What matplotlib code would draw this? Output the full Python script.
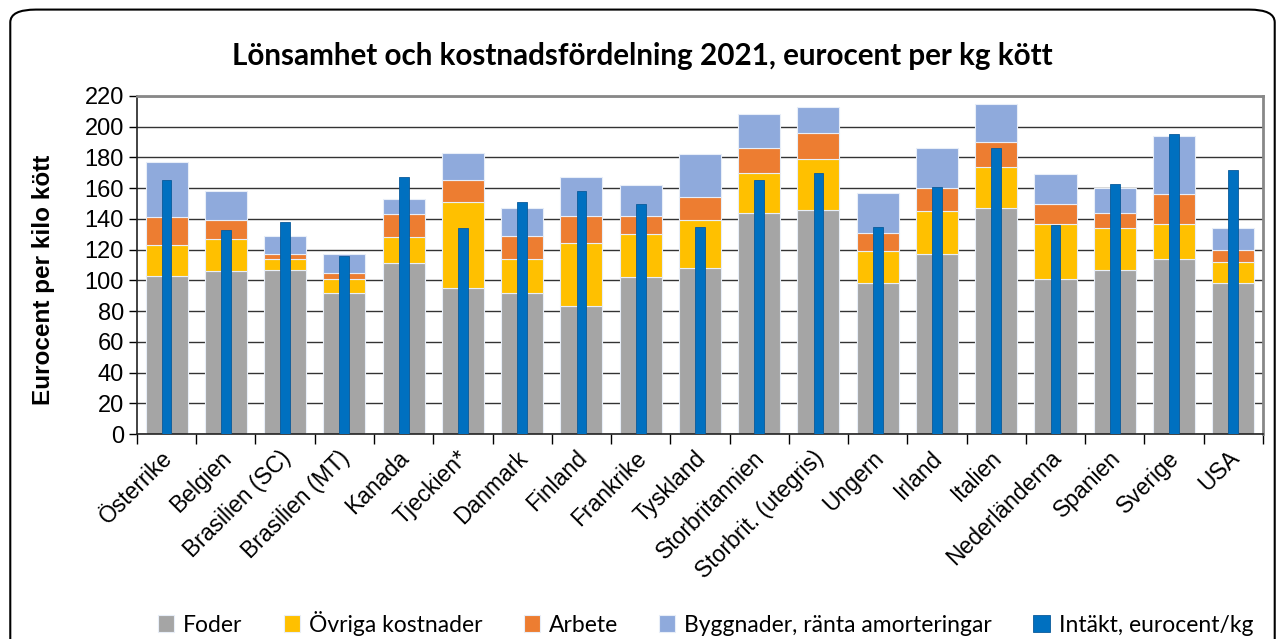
import numpy as np
import matplotlib.pyplot as plt
import matplotlib.transforms as mtransforms
from matplotlib.patches import FancyBboxPatch

countries = ['Österrike', 'Belgien', 'Brasilien (SC)', 'Brasilien (MT)', 'Kanada',
             'Tjeckien*', 'Danmark', 'Finland', 'Frankrike', 'Tyskland',
             'Storbritannien', 'Storbrit. (utegris)', 'Ungern', 'Irland', 'Italien',
             'Nederländerna', 'Spanien', 'Sverige', 'USA']

# stacked cost components, eurocent/kg
foder = [103, 106, 107, 92, 111, 95, 92, 83, 102, 108, 144, 146, 98, 117, 147, 101, 107, 114, 98]
ovriga = [20, 21, 7, 9, 17, 56, 22, 41, 28, 31, 26, 33, 21, 28, 27, 36, 27, 23, 14]
arbete = [18, 12, 3, 4, 15, 14, 15, 18, 12, 15, 16, 17, 12, 15, 16, 13, 10, 19, 8]
byggnader = [36, 19, 12, 12, 10, 18, 18, 25, 20, 28, 22, 17, 26, 26, 25, 19, 16, 38, 14]
intakt = [165, 133, 138, 116, 167, 134, 151, 158, 150, 135, 165, 170, 135, 161, 186, 136, 163, 195, 172]

fig = plt.figure(figsize=(12.85, 6.39), dpi=100)
plt.rcParams['font.family'] = ['Liberation Sans', 'DejaVu Sans']

# rounded outer frame
frame = FancyBboxPatch((0.008, -0.05), 0.984, 1.035, boxstyle='round,pad=0,rounding_size=0.02',
                       transform=fig.transFigure, facecolor='none', edgecolor='black', lw=1.5,
                       zorder=-1)
fig.patches.append(frame)

ax = fig.add_axes([0.1066, 0.3208, 0.8762, 0.529])
x = np.arange(len(countries))
w = 0.71
edge = '#E8EEF8'
b1 = ax.bar(x, foder, w, color='#A5A5A5', edgecolor=edge, lw=0.8, zorder=2, label='Foder')
bottom = np.array(foder)
b2 = ax.bar(x, ovriga, w, bottom=bottom, color='#FFC000', edgecolor=edge, lw=0.8, zorder=2,
            label='Övriga kostnader')
bottom = bottom + np.array(ovriga)
b3 = ax.bar(x, arbete, w, bottom=bottom, color='#ED7D31', edgecolor=edge, lw=0.8, zorder=2,
            label='Arbete')
bottom = bottom + np.array(arbete)
b4 = ax.bar(x, byggnader, w, bottom=bottom, color='#8FAADC', edgecolor=edge, lw=0.8, zorder=2,
            label='Byggnader, ränta amorteringar')
b5 = ax.bar(x, intakt, 0.165, color='#0070C0', edgecolor='#0A5A9A', lw=0.6, zorder=3,
            label='Intäkt, eurocent/kg')

ax.set_xlim(-0.5, len(countries) - 0.5)
ax.set_ylim(0, 220)
ax.set_yticks(range(0, 221, 20))
ax.yaxis.grid(True, color='#333333', lw=1.0, zorder=0)
ax.set_axisbelow(True)
ax.tick_params(axis='y', labelsize=17, length=6, width=1)
ax.set_xticks(x)
ax.set_xticklabels(countries, rotation=45, ha='right', rotation_mode='anchor', fontsize=16.5)
ax.tick_params(axis='x', length=0, pad=9)
shift = mtransforms.ScaledTranslation(-6 / 100, 0, fig.dpi_scale_trans)
for lab in ax.get_xticklabels():
    lab.set_transform(lab.get_transform() + shift)
# tick marks between categories
ax.set_xticks(np.arange(-0.5, len(countries), 1), minor=True)
ax.tick_params(axis='x', which='minor', length=7, width=1)
for s in ['left', 'bottom']:
    ax.spines[s].set_color('#222222')
    ax.spines[s].set_linewidth(1.2)
for s in ['top', 'right']:
    ax.spines[s].set_color('#888888')
    ax.spines[s].set_linewidth(2)

ax.set_ylabel('Eurocent per kilo kött', fontsize=17.5, fontweight='bold')
ax.yaxis.set_label_coords(-0.073, 0.455)
fig.text(0.5, 0.912, 'Lönsamhet och kostnadsfördelning 2021, eurocent per kg kött',
         ha='center', va='center', fontsize=21.3, fontweight='bold', family=['Lato', 'DejaVu Sans'])

fig.legend(handles=[b1, b2, b3, b4, b5], loc='center', bbox_to_anchor=(0.549, 0.025), ncol=5,
           frameon=False, prop={'family': ['Lato', 'DejaVu Sans'], 'size': 16.5},
           handlelength=0.7, handleheight=0.7, handletextpad=0.4, columnspacing=1.8)

fig.savefig('out.png', dpi=100)
